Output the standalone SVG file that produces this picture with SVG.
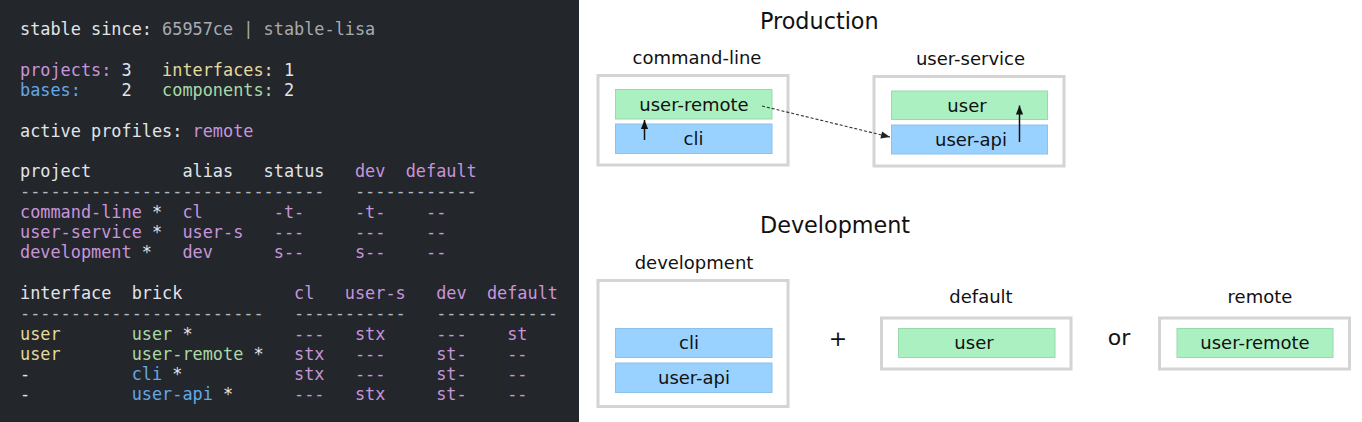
<svg xmlns="http://www.w3.org/2000/svg" width="1362" height="422" viewBox="0 0 1362 422">
<defs>
<style>
.t{font-family:"DejaVu Sans Mono","Liberation Mono",monospace;font-size:16.86px;fill:#e2e4e8}
.g{fill:#a8abb0}.p{fill:#c894da}.y{fill:#e5d99c}.gr{fill:#aad9a5}.b{fill:#64a8e6}.w{fill:#e2e4e8}.d{fill:#b4b7bc}
.lbl{font-family:"DejaVu Sans",Verdana,sans-serif;font-size:18px;fill:#111;text-anchor:middle}
.ttl{font-family:"DejaVu Sans",Verdana,sans-serif;font-size:22.3px;fill:#111}
.big{font-family:"DejaVu Sans",Verdana,sans-serif;font-size:22px;fill:#111;text-anchor:middle}
.outer{fill:#fff;stroke:#d4d4d4;stroke-width:3}
.gb{fill:#aaf0c1;stroke:#9bd9ad;stroke-width:1}
.bb{fill:#99d2ff;stroke:#8cc1ea;stroke-width:1}
</style>
<marker id="ah" viewBox="0 0 10 10" refX="10" refY="5" markerWidth="10" markerHeight="9" markerUnits="userSpaceOnUse" orient="auto">
<path d="M0,1 L10,5 L0,9 Z" fill="#111"/>
</marker>
<marker id="ah2" viewBox="0 0 10 10" refX="10" refY="5" markerWidth="10" markerHeight="9" markerUnits="userSpaceOnUse" orient="auto">
<path d="M0,1 L10,5 L0,9 Z" fill="#222"/>
</marker>
</defs>
<rect x="0" y="0" width="1362" height="422" fill="#ffffff"/>
<rect x="0" y="0" width="579" height="422" fill="#23262b"/>
<g id="terminal" class="t">
<text y="35"><tspan x="20" class="w">stable since:</tspan><tspan x="162.1" class="g">65957ce | stable-lisa</tspan></text>
<text y="75.6"><tspan x="20" class="p">projects:</tspan><tspan x="121.5" class="w">3</tspan><tspan x="162.1" class="y">interfaces:</tspan><tspan x="283.9" class="w">1</tspan></text>
<text y="95.9"><tspan x="20" class="b">bases:</tspan><tspan x="121.5" class="w">2</tspan><tspan x="162.1" class="gr">components:</tspan><tspan x="283.9" class="w">2</tspan></text>
<text y="136.5"><tspan x="20" class="w">active profiles:</tspan><tspan x="192.55" class="p">remote</tspan></text>
<text y="177.1"><tspan x="20" class="w">project</tspan><tspan x="182.4" class="w">alias</tspan><tspan x="263.6" class="w">status</tspan><tspan x="354.95" class="p">dev</tspan><tspan x="405.7" class="p">default</tspan></text>
<text y="197.4"><tspan x="20" class="d">------------------------------</tspan><tspan x="354.95" class="d">------------</tspan></text>
<text y="217.7"><tspan x="20" class="p">command-line</tspan><tspan x="151.95" class="w">*</tspan><tspan x="182.4" class="p">cl</tspan><tspan x="273.75" class="p">-t-</tspan><tspan x="354.95" class="p">-t-</tspan><tspan x="426" class="p">--</tspan></text>
<text y="238"><tspan x="20" class="p">user-service</tspan><tspan x="151.95" class="w">*</tspan><tspan x="182.4" class="p">user-s</tspan><tspan x="273.75" class="p">---</tspan><tspan x="354.95" class="p">---</tspan><tspan x="426" class="p">--</tspan></text>
<text y="258.3"><tspan x="20" class="p">development</tspan><tspan x="141.8" class="w">*</tspan><tspan x="182.4" class="p">dev</tspan><tspan x="273.75" class="p">s--</tspan><tspan x="354.95" class="p">s--</tspan><tspan x="426" class="p">--</tspan></text>
<text y="298.9"><tspan x="20" class="w">interface</tspan><tspan x="131.65" class="w">brick</tspan><tspan x="294.05" class="p">cl</tspan><tspan x="344.8" class="p">user-s</tspan><tspan x="436.15" class="p">dev</tspan><tspan x="486.9" class="p">default</tspan></text>
<text y="319.2"><tspan x="20" class="d">------------------------</tspan><tspan x="294.05" class="d">-----------</tspan><tspan x="436.15" class="d">------------</tspan></text>
<text y="339.5"><tspan x="20" class="y">user</tspan><tspan x="131.65" class="gr">user</tspan><tspan x="182.4" class="w">*</tspan><tspan x="294.05" class="p">---</tspan><tspan x="354.95" class="p">stx</tspan><tspan x="436.15" class="p">---</tspan><tspan x="507.2" class="p">st</tspan></text>
<text y="359.8"><tspan x="20" class="y">user</tspan><tspan x="131.65" class="gr">user-remote</tspan><tspan x="253.45" class="w">*</tspan><tspan x="294.05" class="p">stx</tspan><tspan x="354.95" class="p">---</tspan><tspan x="436.15" class="p">st-</tspan><tspan x="507.2" class="p">--</tspan></text>
<text y="380.1"><tspan x="20" class="w">-</tspan><tspan x="131.65" class="b">cli</tspan><tspan x="172.25" class="w">*</tspan><tspan x="294.05" class="p">stx</tspan><tspan x="354.95" class="p">---</tspan><tspan x="436.15" class="p">st-</tspan><tspan x="507.2" class="p">--</tspan></text>
<text y="400.4"><tspan x="20" class="w">-</tspan><tspan x="131.65" class="b">user-api</tspan><tspan x="223" class="w">*</tspan><tspan x="294.05" class="p">---</tspan><tspan x="354.95" class="p">stx</tspan><tspan x="436.15" class="p">st-</tspan><tspan x="507.2" class="p">--</tspan></text>
</g>
<g id="titles">
<text class="ttl" x="760" y="29">Production</text>
<text class="ttl" x="760" y="233">Development</text>
<text class="big" x="838" y="346">+</text>
<text class="big" x="1119" y="345">or</text>
</g>
<g id="command-line">
<text class="lbl" x="697" y="64">command-line</text>
<rect class="outer" x="598" y="75.5" width="190" height="89.5"/>
<g id="cl-user-remote"><rect class="gb" x="615.5" y="89.5" width="156.5" height="29.5"/><text class="lbl" x="694" y="110.5">user-remote</text></g>
<g id="cl-cli"><rect class="bb" x="615.5" y="124" width="156.5" height="29.5"/><text class="lbl" x="693.5" y="145">cli</text></g>
</g>
<g id="user-service">
<text class="lbl" x="970.5" y="65">user-service</text>
<rect class="outer" x="874" y="76.5" width="190" height="89.5"/>
<g id="us-user"><rect class="gb" x="891.5" y="91" width="156" height="28.5"/><text class="lbl" x="967" y="111.5">user</text></g>
<g id="us-user-api"><rect class="bb" x="891.5" y="125" width="156" height="29"/><text class="lbl" x="971" y="145.5">user-api</text></g>
</g>
<g id="development">
<text class="lbl" x="694" y="269">development</text>
<rect class="outer" x="598" y="280.5" width="190" height="126"/>
<g id="dev-cli"><rect class="bb" x="615.5" y="328.5" width="156.5" height="29"/><text class="lbl" x="689" y="349">cli</text></g>
<g id="dev-user-api"><rect class="bb" x="615.5" y="363" width="156.5" height="29.5"/><text class="lbl" x="694" y="383.5">user-api</text></g>
</g>
<g id="default">
<text class="lbl" x="981" y="303">default</text>
<rect class="outer" x="881.5" y="318" width="189.5" height="51"/>
<g id="def-user"><rect class="gb" x="898.5" y="328.5" width="156.5" height="29"/><text class="lbl" x="974" y="349">user</text></g>
</g>
<g id="remote">
<text class="lbl" x="1260" y="303">remote</text>
<rect class="outer" x="1159.5" y="318" width="190" height="51"/>
<g id="rem-user-remote"><rect class="gb" x="1177" y="328.5" width="156" height="29"/><text class="lbl" x="1255" y="349">user-remote</text></g>
</g>
<g id="connectors" fill="none">
<line x1="644.5" y1="140" x2="644.5" y2="120" stroke="#111" stroke-width="1.5" marker-end="url(#ah)"/>
<line x1="1019.5" y1="142" x2="1019.5" y2="105.5" stroke="#111" stroke-width="1.5" marker-end="url(#ah)"/>
<line x1="762" y1="106" x2="890" y2="137" stroke="#333" stroke-width="1.1" stroke-dasharray="3,2" marker-end="url(#ah2)"/>
</g>
</svg>
